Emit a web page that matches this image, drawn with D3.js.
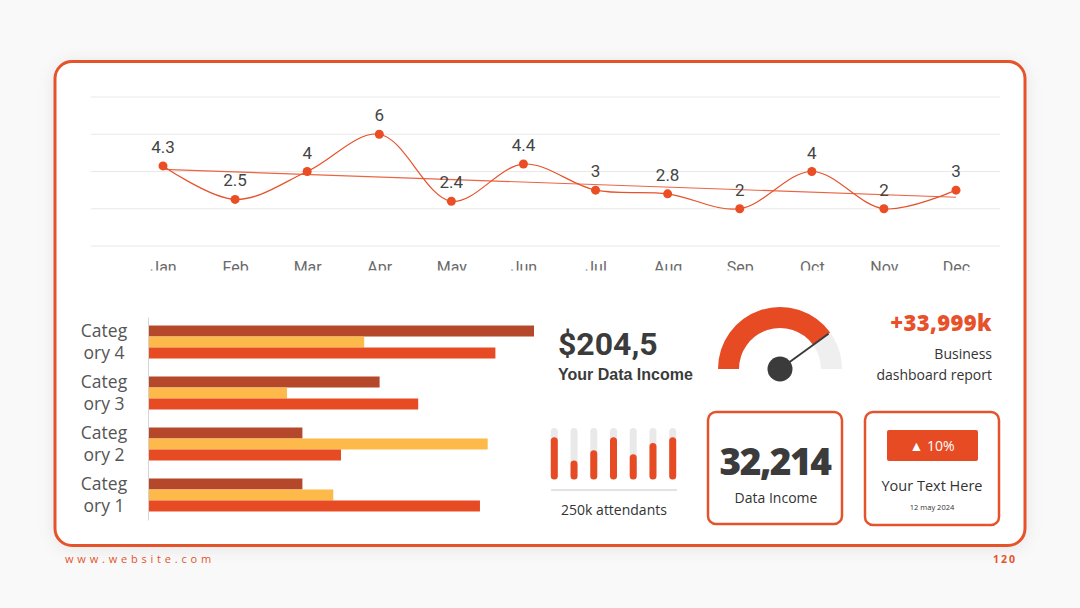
<!DOCTYPE html>
<html>
<head>
<meta charset="utf-8">
<script src="https://cdn.jsdelivr.net/npm/d3@7"></script>
<style>
  body { margin: 0; background: #f7f7f7; }
  svg { display: block; }
</style>
</head>
<body>
<svg id="chart" width="1080" height="608"></svg>
<script>
// line chart data
var months = ["Jan","Feb","Mar","Apr","May","Jun","Jul","Aug","Sep","Oct","Nov","Dec"];
var monthValues = [4.3, 2.5, 4, 6, 2.4, 4.4, 3, 2.8, 2, 4, 2, 3];

// bar chart data
var categories = ["Category 1","Category 2","Category 3","Category 4"];
var series1 = [4.3, 2.5, 3.5, 4.5];
var series2 = [2.4, 4.4, 1.8, 2.8];
var series3 = [2, 2, 3, 5];

// small widgets
var attendance = [82, 37, 57, 82, 49, 71, 82];
var gaugeValue = 0.8;

var orange = "#e64b24", dark = "#b5482a", yellow = "#fdb94a", ink = "#3b3b3b";

var svg = d3.select("#chart");

var defs = svg.append("defs");
var shadow = defs.append("filter").attr("id", "shadow").attr("x", "-10%").attr("y", "-10%").attr("width", "120%").attr("height", "120%");
shadow.append("feDropShadow").attr("dx", 0).attr("dy", 2).attr("stdDeviation", 8).attr("flood-color", "#000").attr("flood-opacity", 0.08);
defs.append("clipPath").attr("id", "monthClip")
  .append("rect").attr("x", 0).attr("y", 0).attr("width", 1080).attr("height", 270.5);

svg.append("rect").attr("width", 1080).attr("height", 608).attr("fill", "#f9f9f9");

// card
svg.append("rect")
  .attr("x", 55).attr("y", 61.5).attr("width", 970).attr("height", 484)
  .attr("rx", 17)
  .attr("fill", "#fff")
  .attr("stroke", "#e4532b")
  .attr("stroke-width", 3)
  .attr("filter", "url(#shadow)");

// ---- line chart ----
var x = d3.scalePoint().domain(months).range([163, 956]);
var y = d3.scaleLinear().domain([0, 8]).range([246, 97]);

svg.append("g").selectAll("line")
  .data(y.ticks(4))
  .join("line")
  .attr("x1", 91).attr("x2", 1000)
  .attr("y1", d => y(d)).attr("y2", d => y(d))
  .attr("stroke", "#e8e8e8").attr("stroke-width", 1);

// month labels are cut off at the bottom in the original
var xAxis = svg.append("g")
  .attr("clip-path", "url(#monthClip)")
  .append("g")
  .attr("transform", "translate(0,246)")
  .call(d3.axisBottom(x).tickSize(0).tickPadding(16));
xAxis.select(".domain").remove();
xAxis.selectAll("text")
  .attr("font-family", "Roboto, sans-serif")
  .attr("font-size", 16)
  .attr("fill", "#6a6a6a");

// trend line from least squares fit
var n = monthValues.length;
var mx = d3.mean(monthValues, (d, i) => i), my = d3.mean(monthValues);
var slope = d3.sum(monthValues, (d, i) => (i - mx) * (d - my)) / d3.sum(monthValues, (d, i) => (i - mx) * (i - mx));
var icpt = my - slope * mx;

svg.append("line")
  .attr("x1", x(months[0])).attr("y1", y(icpt))
  .attr("x2", x(months[n - 1])).attr("y2", y(icpt + slope * (n - 1)))
  .attr("stroke", "#ec6444").attr("stroke-width", 1.2);

var line = d3.line()
  .x((d, i) => x(months[i]))
  .y(d => y(d))
  .curve(d3.curveCatmullRom.alpha(0.5));

svg.append("path")
  .datum(monthValues)
  .attr("fill", "none")
  .attr("stroke", "#e6522b")
  .attr("stroke-width", 1.2)
  .attr("d", line);

svg.append("g").selectAll("circle")
  .data(monthValues)
  .join("circle")
  .attr("cx", (d, i) => x(months[i]))
  .attr("cy", d => y(d))
  .attr("r", 4.5)
  .attr("fill", "#eb4d24");

svg.append("g").selectAll("text")
  .data(monthValues)
  .join("text")
  .attr("x", (d, i) => x(months[i]))
  .attr("y", d => y(d) - 13)
  .attr("text-anchor", "middle")
  .attr("font-family", "Roboto, sans-serif")
  .attr("font-size", 17)
  .attr("fill", "#444")
  .text(d => d);

// ---- bar chart ----
var yb = d3.scaleBand().domain(categories.slice().reverse()).range([317, 520]).paddingInner(0.353).paddingOuter(0.167);
var seriesNames = ["Series 3", "Series 2", "Series 1"];
var seriesColor = {"Series 3": dark, "Series 2": yellow, "Series 1": orange};
var seriesData = {"Series 1": series1, "Series 2": series2, "Series 3": series3};
var ys = d3.scaleBand().domain(seriesNames).range([0, yb.bandwidth()]);
var xb = d3.scaleLinear().domain([0, 5]).range([148, 534]);

var groups = svg.append("g").selectAll("g")
  .data(categories)
  .join("g")
  .attr("transform", d => "translate(0," + yb(d) + ")");

groups.selectAll("rect")
  .data(c => seriesNames.map(s => ({s: s, v: seriesData[s][categories.indexOf(c)]})))
  .join("rect")
  .attr("x", xb(0))
  .attr("y", d => ys(d.s))
  .attr("width", d => xb(d.v) - xb(0))
  .attr("height", ys.bandwidth())
  .attr("fill", d => seriesColor[d.s]);

var yAxis = svg.append("g")
  .attr("transform", "translate(148,0)")
  .call(d3.axisLeft(yb).tickSize(0).tickPadding(0));
yAxis.select(".domain").attr("stroke", "#d4d4d4");
yAxis.selectAll(".tick text").each(function(d) {
  var t = d3.select(this).text("").attr("text-anchor", "middle").attr("x", -44).attr("dy", null)
    .attr("font-family", "'Open Sans', sans-serif").attr("font-size", 17.5).attr("fill", "#555");
  t.append("tspan").attr("x", -44).attr("y", -5).text(d.slice(0, 5));
  t.append("tspan").attr("x", -44).attr("y", 17).text(d.slice(5));
});

// ---- income text ----
svg.append("text").attr("x", 558).attr("y", 355)
  .attr("font-family", "Roboto, sans-serif").attr("font-weight", 700).attr("font-size", 32)
  .attr("fill", ink).text("$204,5");
svg.append("text").attr("x", 558).attr("y", 380)
  .attr("font-family", "'Liberation Sans', Arial, sans-serif").attr("font-weight", 700).attr("font-size", 16)
  .attr("fill", ink).text("Your Data Income");

// ---- gauge ----
var gx = 780, gy = 369;
var ga = d3.scaleLinear().domain([0, 1]).range([-Math.PI / 2, Math.PI / 2]);
var arc = d3.arc().innerRadius(41).outerRadius(62);
var gauge = svg.append("g").attr("transform", "translate(" + gx + "," + gy + ")");
gauge.append("path").attr("d", arc({startAngle: ga(0), endAngle: ga(1)})).attr("fill", "#efefef");
gauge.append("path").attr("d", arc({startAngle: ga(0), endAngle: ga(gaugeValue)})).attr("fill", orange);
gauge.append("line")
  .attr("x1", 0).attr("y1", 0)
  .attr("x2", 60 * Math.sin(ga(gaugeValue))).attr("y2", -60 * Math.cos(ga(gaugeValue)))
  .attr("stroke", ink).attr("stroke-width", 2);
gauge.append("circle").attr("r", 12.5).attr("fill", ink);

// ---- business ----
svg.append("text").attr("x", 992).attr("y", 331).attr("text-anchor", "end")
  .attr("font-family", "'Open Sans', sans-serif").attr("font-weight", 800).attr("font-size", 22)
  .attr("letter-spacing", 0.4)
  .attr("fill", "#e8502a").text("+33,999k");
svg.append("text").attr("x", 992).attr("y", 359).attr("text-anchor", "end")
  .attr("font-family", "'Open Sans', sans-serif").attr("font-size", 14)
  .attr("fill", "#333").text("Business");
svg.append("text").attr("x", 992).attr("y", 380).attr("text-anchor", "end")
  .attr("font-family", "'Open Sans', sans-serif").attr("font-size", 14)
  .attr("fill", "#333").text("dashboard report");

// ---- attendance mini bars ----
var xa = d3.scalePoint().domain(d3.range(attendance.length)).range([554.3, 672.7]);
var ya = d3.scaleLinear().domain([0, 100]).range([479.5, 428]);
var mini = svg.append("g");
mini.selectAll(".track")
  .data(attendance)
  .join("rect").attr("class", "track")
  .attr("x", (d, i) => xa(i) - 3.5).attr("y", ya(100))
  .attr("width", 7).attr("height", ya(0) - ya(100))
  .attr("rx", 3.5).attr("fill", "#e9e9e9");
mini.selectAll(".fill")
  .data(attendance)
  .join("rect").attr("class", "fill")
  .attr("x", (d, i) => xa(i) - 3.5).attr("y", d => ya(d))
  .attr("width", 7).attr("height", d => ya(0) - ya(d))
  .attr("rx", 3.5).attr("fill", orange);
svg.append("line").attr("x1", 551).attr("x2", 677).attr("y1", 490).attr("y2", 490)
  .attr("stroke", "#e3e3e3").attr("stroke-width", 2);
svg.append("text").attr("x", 614).attr("y", 515).attr("text-anchor", "middle")
  .attr("font-family", "'Open Sans', sans-serif").attr("font-size", 14)
  .attr("fill", "#333").text("250k attendants");

// ---- boxes ----
svg.append("rect").attr("x", 708).attr("y", 412).attr("width", 134).attr("height", 112).attr("rx", 8)
  .attr("fill", "#fff").attr("stroke", "#e4532b").attr("stroke-width", 2.5);
svg.append("text").attr("x", 775).attr("y", 475).attr("text-anchor", "middle")
  .attr("font-family", "'Open Sans', sans-serif").attr("font-weight", 800).attr("font-size", 37)
  .attr("letter-spacing", -1.5)
  .attr("fill", ink).text("32,214");
svg.append("text").attr("x", 776).attr("y", 503).attr("text-anchor", "middle")
  .attr("font-family", "'Open Sans', sans-serif").attr("font-size", 14)
  .attr("fill", "#333").text("Data Income");

svg.append("rect").attr("x", 865).attr("y", 412).attr("width", 134).attr("height", 113).attr("rx", 8)
  .attr("fill", "#fff").attr("stroke", "#e4532b").attr("stroke-width", 2.5);
svg.append("rect").attr("x", 887).attr("y", 430).attr("width", 91).attr("height", 31).attr("rx", 2)
  .attr("fill", orange);
svg.append("text").attr("x", 932).attr("y", 451).attr("text-anchor", "middle")
  .attr("font-family", "'Open Sans', sans-serif").attr("font-size", 14)
  .attr("fill", "#fff").text("\u25B2 10%");
svg.append("text").attr("x", 932).attr("y", 491).attr("text-anchor", "middle")
  .attr("font-family", "'Open Sans', sans-serif").attr("font-size", 14.5)
  .attr("fill", "#333").text("Your Text Here");
svg.append("text").attr("x", 932).attr("y", 510).attr("text-anchor", "middle")
  .attr("font-family", "'Open Sans', sans-serif").attr("font-size", 7.5)
  .attr("fill", "#333").text("12 may 2024");

// ---- footer ----
svg.append("text").attr("x", 65).attr("y", 563)
  .attr("font-family", "'Open Sans', sans-serif").attr("font-size", 11).attr("letter-spacing", 3.8)
  .attr("fill", "#e4532b").text("www.website.com");
svg.append("text").attr("x", 1017).attr("y", 563).attr("text-anchor", "end")
  .attr("font-family", "'Open Sans', sans-serif").attr("font-weight", 700).attr("font-size", 10.5).attr("letter-spacing", 2)
  .attr("fill", "#e4532b").text("120");
</script>
</body>
</html>
